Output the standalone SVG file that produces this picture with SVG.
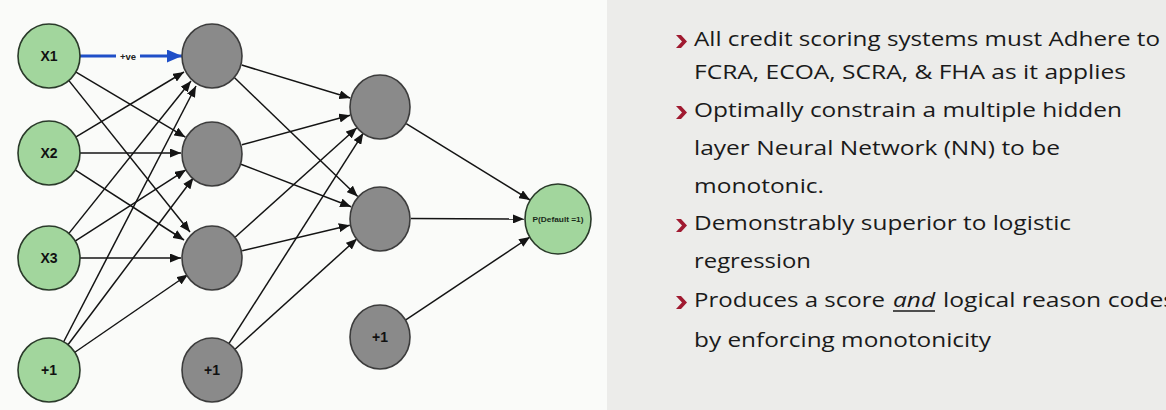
<svg xmlns="http://www.w3.org/2000/svg" width="1166" height="410" viewBox="0 0 1166 410">
<defs>
<style>
.in{fill:#a2d69d;stroke:#2a3a2a;stroke-width:1.6}
.hid{fill:#8a8a8a;stroke:#3c3c3c;stroke-width:1.6}
.nl{font-family:"Liberation Sans",Arial,sans-serif;font-weight:bold;font-size:14px;fill:#111;text-anchor:middle}
.e{stroke:#141414;stroke-width:1.5;fill:none;marker-end:url(#ah)}
.bt{font-family:"Open Sans","Noto Sans",sans-serif;font-size:20.5px;fill:#1a1a1a}
.bul{fill:#a01a30}
</style>
<marker id="ah" markerUnits="userSpaceOnUse" markerWidth="11" markerHeight="9" refX="11" refY="4.5" orient="auto">
<path d="M0,0 L11,4.5 L0,9 z" fill="#141414"/>
</marker>
<marker id="ahb" markerUnits="userSpaceOnUse" markerWidth="15" markerHeight="13" refX="15" refY="6.5" orient="auto">
<path d="M0,0 L15,6.5 L0,13 z" fill="#1f4fc8"/>
</marker>
</defs>
<rect x="0" y="0" width="1166" height="410" fill="#fafbf9"/>
<rect x="607" y="0" width="559" height="410" fill="#ececea"/>

<g id="connectors">
<line x1="80" y1="56" x2="116" y2="56" stroke="#1f4fc8" stroke-width="3"/>
<line x1="140" y1="56" x2="182" y2="56" stroke="#1f4fc8" stroke-width="3" marker-end="url(#ahb)"/>
<text x="128" y="59.5" font-family="Liberation Sans,Arial,sans-serif" font-weight="bold" font-size="9.5" fill="#222" text-anchor="middle">+ve</text>
<line class="e" x1="75.6" y1="71.8" x2="185.4" y2="137.2"/>
<line class="e" x1="68.5" y1="80.1" x2="190" y2="232"/>
<line class="e" x1="75.6" y1="137.2" x2="184" y2="72"/>
<line class="e" x1="80" y1="153" x2="181" y2="153"/>
<line class="e" x1="75.1" y1="169.8" x2="184" y2="240"/>
<line class="e" x1="68.5" y1="233.9" x2="191" y2="81"/>
<line class="e" x1="75.1" y1="241.2" x2="185.9" y2="169.8"/>
<line class="e" x1="80" y1="258" x2="181" y2="258"/>
<line class="e" x1="63.3" y1="342.5" x2="196" y2="86"/>
<line class="e" x1="67.6" y1="345.2" x2="193.4" y2="177.8"/>
<line class="e" x1="74.5" y1="352.5" x2="188" y2="274.5"/>
<line class="e" x1="241.7" y1="65" x2="350.3" y2="98"/>
<line class="e" x1="234.3" y1="77.5" x2="357.7" y2="196.5"/>
<line class="e" x1="241.9" y1="144.8" x2="350.1" y2="115.2"/>
<line class="e" x1="240.9" y1="164.2" x2="351.1" y2="206.8"/>
<line class="e" x1="235.1" y1="237.3" x2="356.9" y2="127.7"/>
<line class="e" x1="242.2" y1="250.8" x2="349.8" y2="225.2"/>
<line class="e" x1="228.7" y1="343.9" x2="363.3" y2="133.1"/>
<line class="e" x1="235" y1="349.2" x2="357" y2="238.8"/>
<line class="e" x1="406.2" y1="123.6" x2="530" y2="200"/>
<line class="e" x1="411" y1="218.5" x2="524" y2="219"/>
<line class="e" x1="405.8" y1="319.8" x2="530" y2="237"/>
</g>

<g id="in-x1"><ellipse class="in" cx="49" cy="56" rx="31" ry="32"/><text class="nl" x="49" y="61">X1</text></g>
<g id="in-x2"><ellipse class="in" cx="49" cy="153" rx="31" ry="32"/><text class="nl" x="49" y="158">X2</text></g>
<g id="in-x3"><ellipse class="in" cx="49" cy="258" rx="31" ry="32"/><text class="nl" x="49" y="263">X3</text></g>
<g id="in-bias"><ellipse class="in" cx="49" cy="370" rx="31" ry="32"/><text class="nl" x="49" y="375">+1</text></g>

<g id="h1-1"><ellipse class="hid" cx="212" cy="56" rx="30" ry="32"/></g>
<g id="h1-2"><ellipse class="hid" cx="212" cy="154" rx="30" ry="32"/></g>
<g id="h1-3"><ellipse class="hid" cx="212" cy="258" rx="30" ry="32"/></g>
<g id="h1-bias"><ellipse class="hid" cx="212" cy="370" rx="30" ry="32"/><text class="nl" x="212" y="375">+1</text></g>

<g id="h2-1"><ellipse class="hid" cx="380" cy="107" rx="30" ry="32"/></g>
<g id="h2-2"><ellipse class="hid" cx="380" cy="219" rx="30" ry="32"/></g>
<g id="h2-bias"><ellipse class="hid" cx="380" cy="337" rx="30" ry="32"/><text class="nl" x="380" y="342">+1</text></g>

<g id="out"><ellipse class="in" cx="558" cy="219" rx="33" ry="35"/><text x="558" y="222" font-family="Liberation Sans,Arial,sans-serif" font-weight="bold" font-size="8" fill="#1a2a1a" text-anchor="middle" textLength="51" lengthAdjust="spacingAndGlyphs">P(Default =1)</text></g>

<g id="bullets">
<polygon class="bul" points="676,35 681,35 687,41.5 681,48 676,48 682,41.5"/>
<polygon class="bul" points="676,106 681,106 687,112.5 681,119 676,119 682,112.5"/>
<polygon class="bul" points="676,219 681,219 687,225.5 681,232 676,232 682,225.5"/>
<polygon class="bul" points="676,296 681,296 687,302.5 681,309 676,309 682,302.5"/>
<text class="bt" x="694" y="46" textLength="466" lengthAdjust="spacingAndGlyphs">All credit scoring systems must Adhere to</text>
<text class="bt" x="694" y="79" textLength="432" lengthAdjust="spacingAndGlyphs">FCRA, ECOA, SCRA, &amp; FHA as it applies</text>
<text class="bt" x="694" y="117" textLength="428" lengthAdjust="spacingAndGlyphs">Optimally constrain a multiple hidden</text>
<text class="bt" x="694" y="155" textLength="366" lengthAdjust="spacingAndGlyphs">layer Neural Network (NN) to be</text>
<text class="bt" x="694" y="193" textLength="130" lengthAdjust="spacingAndGlyphs">monotonic.</text>
<text class="bt" x="694" y="230" textLength="377" lengthAdjust="spacingAndGlyphs">Demonstrably superior to logistic</text>
<text class="bt" x="694" y="268" textLength="117" lengthAdjust="spacingAndGlyphs">regression</text>
<text class="bt" x="694" y="307" textLength="191" lengthAdjust="spacingAndGlyphs">Produces a score</text>
<text class="bt" x="893" y="307" font-style="italic" textLength="42" lengthAdjust="spacingAndGlyphs">and</text>
<line x1="893" y1="311" x2="935" y2="311" stroke="#1a1a1a" stroke-width="1.3"/>
<text class="bt" x="943" y="307" textLength="232" lengthAdjust="spacingAndGlyphs">logical reason codes</text>
<text class="bt" x="694" y="347" textLength="297" lengthAdjust="spacingAndGlyphs">by enforcing monotonicity</text>
</g>
</svg>
